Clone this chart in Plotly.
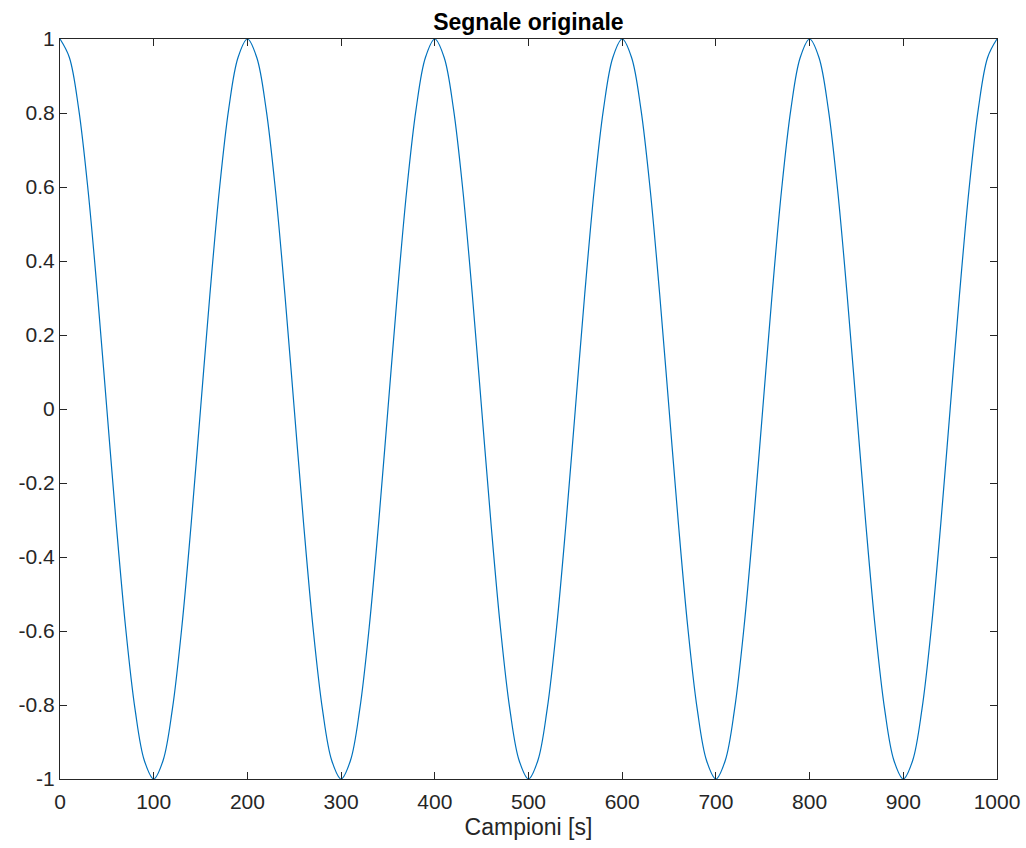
import plotly.graph_objects as go

# Samples (every 10 samples)
campioni = list(range(0, 1001, 10))
segnale = [
    1, 0.95, 0.81, 0.59, 0.31, 0, -0.31, -0.59, -0.81, -0.95,
    -1, -0.95, -0.81, -0.59, -0.31, 0, 0.31, 0.59, 0.81, 0.95,
    1, 0.95, 0.81, 0.59, 0.31, 0, -0.31, -0.59, -0.81, -0.95,
    -1, -0.95, -0.81, -0.59, -0.31, 0, 0.31, 0.59, 0.81, 0.95,
    1, 0.95, 0.81, 0.59, 0.31, 0, -0.31, -0.59, -0.81, -0.95,
    -1, -0.95, -0.81, -0.59, -0.31, 0, 0.31, 0.59, 0.81, 0.95,
    1, 0.95, 0.81, 0.59, 0.31, 0, -0.31, -0.59, -0.81, -0.95,
    -1, -0.95, -0.81, -0.59, -0.31, 0, 0.31, 0.59, 0.81, 0.95,
    1, 0.95, 0.81, 0.59, 0.31, 0, -0.31, -0.59, -0.81, -0.95,
    -1, -0.95, -0.81, -0.59, -0.31, 0, 0.31, 0.59, 0.81, 0.95,
    1,
]

x_ticks = [0, 100, 200, 300, 400, 500, 600, 700, 800, 900, 1000]
y_ticks = [-1, -0.8, -0.6, -0.4, -0.2, 0, 0.2, 0.4, 0.6, 0.8, 1]
y_tick_labels = ["-1", "-0.8", "-0.6", "-0.4", "-0.2", "0", "0.2", "0.4", "0.6", "0.8", "1"]

fig = go.Figure()
fig.add_trace(go.Scatter(x=campioni, y=segnale, mode="lines",
                         line=dict(color="#0072BD", width=1.2, shape="spline", smoothing=1.0),
                         showlegend=False))

axis_color = "#262626"
fig.update_layout(
    width=1026, height=848,
    margin=dict(l=60, r=29, t=39, b=69, autoexpand=False),
    paper_bgcolor="white", plot_bgcolor="white",
    font=dict(family="Liberation Sans, Arial, Helvetica", size=21, color=axis_color),
    title=dict(text="<b>Segnale originale</b>", x=0.515, xanchor="center",
               y=1 - 22 / 848, yanchor="middle",
               font=dict(size=23, color="black")),
    xaxis=dict(range=[0, 1000], tickvals=x_ticks, ticks="inside", ticklen=7, tickwidth=1,
               tickcolor=axis_color, showline=True, linecolor=axis_color, linewidth=1,
               mirror="ticks", showgrid=False, zeroline=False, automargin=False,
               ticklabelstandoff=4,
               title=dict(text="Campioni [s]", standoff=6, font=dict(size=23))),
    yaxis=dict(range=[-1, 1], tickvals=y_ticks, ticktext=y_tick_labels, ticks="inside",
               ticklen=7, tickwidth=1, tickcolor=axis_color, showline=True,
               linecolor=axis_color, linewidth=1, mirror="ticks", showgrid=False,
               zeroline=False, automargin=False),
)

fig.write_html("out.html")
